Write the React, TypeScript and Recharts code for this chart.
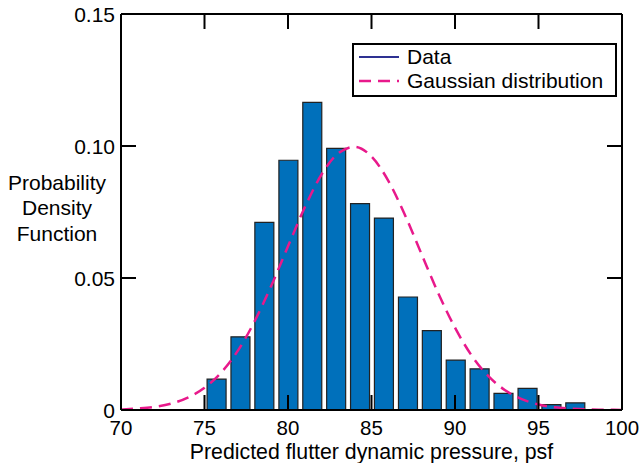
import { Bar, ComposedChart, Label, Legend, Line, XAxis, YAxis } from 'recharts';

// histogram bins (centre of bin, psf) and their probability density
const binCenters = [75.75, 77.18, 78.61, 80.05, 81.48, 82.91, 84.34, 85.77, 87.21, 88.64, 90.07, 91.5, 92.93, 94.37, 95.8, 97.23];
const binDensity = [0.0117, 0.0277, 0.0711, 0.0946, 0.1165, 0.0991, 0.0782, 0.0727, 0.0428, 0.0301, 0.0189, 0.0156, 0.0063, 0.0082, 0.002, 0.0027];

// fitted gaussian
const curveX = [70, 71, 72, 73, 74, 75, 76, 77, 78, 79, 80, 81, 82, 83, 84, 85, 86, 87, 88, 89, 90, 91, 92, 93, 94, 95, 96, 97, 98, 99, 100];
const curveDensity = [
  0.0002, 0.0006, 0.0012, 0.0024, 0.0047, 0.0084, 0.0142, 0.0225, 0.0336, 0.0471, 0.062, 0.0767, 0.0891, 0.0972, 0.0997,
  0.096, 0.0869, 0.0739, 0.059, 0.0442, 0.0312, 0.0206, 0.0128, 0.0075, 0.0041, 0.0021, 0.001, 0.0005, 0.0002, 0.0001, 0.0,
];

const xTicks = [70, 75, 80, 85, 90, 95, 100];
const yTicks = [0, 0.05, 0.1, 0.15];
const yTickLabels = ['0', '0.05', '0.10', '0.15'];

const histogram = binCenters.map((x, i) => ({ x, density: binDensity[i] }));
const gaussian = curveX.map((x, i) => ({ x, density: curveDensity[i] }));

const TICK_LEN = 15;
const FONT = 21;
const axisLine = { stroke: '#000', strokeWidth: 2 };
const tickLine = { stroke: '#000', strokeWidth: 2 };

// negative tickSize turns the tick marks inwards; tickMargin brings the label anchor back onto the frame
function BottomTick({ x, y, payload }: any) {
  return (
    <text x={x} y={y + 25} textAnchor="middle" fontSize={20.5} fill="#000">
      {payload.value}
    </text>
  );
}

function LeftTick({ x, y, payload }: any) {
  const i = yTicks.indexOf(payload.value);
  return (
    <text x={x - 6} y={y} dy="0.36em" textAnchor="end" fontSize={FONT} fill="#000">
      {yTickLabels[i]}
    </text>
  );
}

function NoLabel() {
  return <g />;
}

function YTitle({ viewBox }: any) {
  const cx = viewBox.x - 3;
  const cy = viewBox.y + viewBox.height / 2;
  return (
    <text x={cx} textAnchor="middle" fontSize={FONT} fill="#000">
      <tspan x={cx} y={cy - 22.5}>Probability</tspan>
      <tspan x={cx} y={cy + 3}>Density</tspan>
      <tspan x={cx} y={cy + 28.5}>Function</tspan>
    </text>
  );
}

function LegendBox({ payload }: any) {
  return (
    <div
      style={{
        border: '2px solid #000',
        background: '#fff',
        padding: '0 4px 2px 5px',
        fontSize: FONT,
        lineHeight: '24px',
        color: '#000',
        boxSizing: 'border-box',
        width: 265,
      }}
    >
      {(payload || []).map((entry: any) => (
        <div key={entry.value} style={{ display: 'flex', alignItems: 'center' }}>
          <svg width={40} height={10}>
            {entry.type === 'line' ? (
              <line x1={0} y1={5} x2={40} y2={5} stroke="#e8198b" strokeWidth={2.5} strokeDasharray="12 7" />
            ) : (
              <line x1={0} y1={5} x2={40} y2={5} stroke="#2e3192" strokeWidth={2} />
            )}
          </svg>
          <span style={{ marginLeft: 8 }}>{entry.value}</span>
        </div>
      ))}
    </div>
  );
}

export default function App() {
  return (
    <div style={{ position: 'absolute', left: 0, top: 0, fontFamily: '"Liberation Sans", Arial, sans-serif' }}>
      <ComposedChart width={639} height={463} data={histogram} margin={{ top: 14, right: 16, bottom: 0, left: 60 }}>
        <XAxis
          xAxisId="bottom"
          dataKey="x"
          type="number"
          domain={[70, 100]}
          ticks={xTicks}
          interval={0}
          allowDataOverflow
          height={53}
          tickSize={-TICK_LEN}
          tickMargin={TICK_LEN}
          tickLine={tickLine}
          tick={<BottomTick />}
          axisLine={axisLine}
        >
          <Label value="Predicted flutter dynamic pressure, psf" position="insideBottom" offset={4} fontSize={21.3} fill="#000" />
        </XAxis>
        <XAxis
          xAxisId="top"
          orientation="top"
          dataKey="x"
          type="number"
          domain={[70, 100]}
          ticks={xTicks}
          interval={0}
          allowDataOverflow
          height={1}
          mirror
          tickSize={TICK_LEN}
          tickMargin={0}
          tickLine={tickLine}
          tick={<NoLabel />}
          axisLine={axisLine}
        />
        <YAxis
          yAxisId="left"
          type="number"
          domain={[0, 0.15]}
          ticks={yTicks}
          interval={0}
          allowDataOverflow
          width={61}
          tickSize={-TICK_LEN}
          tickMargin={TICK_LEN}
          tickLine={tickLine}
          tick={<LeftTick />}
          axisLine={axisLine}
        >
          <Label content={<YTitle />} />
        </YAxis>
        <YAxis
          yAxisId="right"
          orientation="right"
          type="number"
          domain={[0, 0.15]}
          ticks={yTicks}
          interval={0}
          allowDataOverflow
          width={1}
          tickSize={-TICK_LEN}
          tickMargin={0}
          tickLine={tickLine}
          tick={<NoLabel />}
          axisLine={axisLine}
        />
        <Legend
          layout="horizontal"
          verticalAlign="middle"
          align="center"
          content={<LegendBox />}
          wrapperStyle={{ top: 43, left: 352, width: 265 }}
        />
        <Bar
          xAxisId="bottom"
          yAxisId="left"
          dataKey="density"
          name="Data"
          barSize={19}
          fill="#0070bb"
          stroke="#222"
          strokeWidth={1.2}
          isAnimationActive={false}
        />
        <Line
          data={gaussian}
          xAxisId="top"
          yAxisId="left"
          dataKey="density"
          name="Gaussian distribution"
          type="monotone"
          stroke="#e8198b"
          strokeWidth={2.5}
          strokeDasharray="12 7"
          dot={false}
          activeDot={false}
          isAnimationActive={false}
        />
      </ComposedChart>
    </div>
  );
}
